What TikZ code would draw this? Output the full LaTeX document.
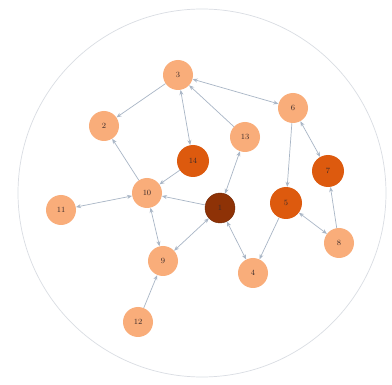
\documentclass[tikz,border=0pt]{standalone}
\usetikzlibrary{arrows.meta}
\definecolor{lightor}{HTML}{F9AD7A}
\definecolor{midor}{HTML}{DD5A0E}
\definecolor{darkor}{HTML}{8E3206}
\definecolor{edgec}{HTML}{A9B6C6}
\definecolor{ringc}{HTML}{DADDE3}
\definecolor{labc}{HTML}{3A2A2A}
\begin{document}
\begin{tikzpicture}[x=1pt,y=-1pt,
  vnode/.style={circle,minimum size=30pt,inner sep=0pt,text=labc,font=\fontsize{8}{9}\selectfont},
  lt/.style={vnode,fill=lightor},
  md/.style={vnode,fill=midor,minimum size=32pt},
  dk/.style={vnode,fill=darkor,draw=darkor!80!black,line width=0.4pt},
  tip/.tip={Stealth[length=5pt,width=4pt]},
  ed/.style={draw=edgec,line width=0.7pt,-tip},
  bi/.style={draw=edgec,line width=0.7pt,tip-tip}]
\useasboundingbox (0,0) rectangle (392,385);
\fill[white] (0,0) rectangle (392,385);
\draw[ringc,line width=0.7pt] (202,193) circle (184);
\node[lt] (n3) at (178,75) {3};
\node[lt] (n2) at (104,126) {2};
\node[lt] (n6) at (293,108) {6};
\node[lt] (n13) at (245,137) {13};
\node[md] (n14) at (193,161) {14};
\node[md] (n7) at (328,171) {7};
\node[lt] (n10) at (147,193) {10};
\node[lt] (n11) at (61,210) {11};
\node[dk] (n1) at (220,208) {1};
\node[md] (n5) at (286,203) {5};
\node[lt] (n8) at (339,243) {8};
\node[lt] (n9) at (163,261) {9};
\node[lt] (n4) at (253,273) {4};
\node[lt] (n12) at (138,322) {12};
\draw[ed] (n3) -- (n2);
\draw[bi] (n3) -- (n6);
\draw[bi] (n3) -- (n14);
\draw[ed] (n13) -- (n3);
\draw[bi] (n13) -- (n1);
\draw[ed] (n6) -- (n5);
\draw[bi] (n6) -- (n7);
\draw[ed] (n8) -- (n7);
\draw[bi] (n8) -- (n5);
\draw[ed] (n5) -- (n4);
\draw[bi] (n1) -- (n4);
\draw[ed] (n1) -- (n10);
\draw[bi] (n9) -- (n1);
\draw[bi] (n10) -- (n9);
\draw[ed] (n14) -- (n10);
\draw[ed] (n10) -- (n2);
\draw[bi] (n11) -- (n10);
\draw[ed] (n12) -- (n9);
\end{tikzpicture}
\end{document}
